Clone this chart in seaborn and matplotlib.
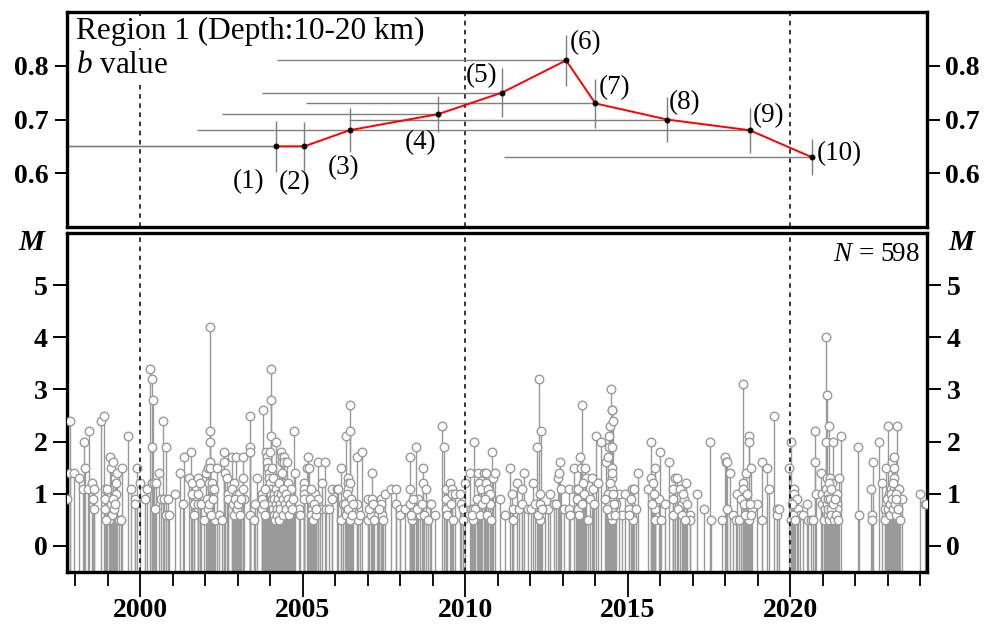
import numpy as np
import pandas as pd
import matplotlib
matplotlib.use("Agg")
import matplotlib.pyplot as plt
import seaborn as sns
from matplotlib.ticker import FixedLocator, MultipleLocator

# ---------------- b-value estimates (top panel) ----------------
b_labels = ["(1)", "(2)", "(3)", "(4)", "(5)", "(6)", "(7)", "(8)", "(9)", "(10)"]
b_time = [2004.18, 2005.05, 2006.44, 2009.17, 2011.13, 2013.10, 2014.00, 2016.20, 2018.75, 2020.65]
b_value = [0.65, 0.65, 0.68, 0.71, 0.75, 0.81, 0.73, 0.70, 0.68, 0.63]
b_err = [0.048, 0.046, 0.041, 0.034, 0.045, 0.047, 0.045, 0.042, 0.042, 0.034]
b_start = [1996.0, 1997.0, 2001.74, 2002.51, 2003.74, 2004.20, 2005.10, 2006.43, 2006.43, 2011.18]

# ---------------- earthquake magnitudes (bottom panel) ----------------
events_1997_2001 = [
    (1997.74, 0.9), (1997.83, 2.4), (1997.83, 1.4), (1997.97, 1.4), (1998.13, 1.3), (1998.27, 2.0),
    (1998.30, 1.5), (1998.24, 1.1), (1998.42, 2.2), (1998.40, 1.1), (1998.52, 1.2), (1998.57, 1.1),
    (1998.54, 0.9), (1998.59, 0.7), (1998.79, 2.4), (1998.88, 2.5), (1998.91, 1.1), (1998.91, 0.9),
    (1998.91, 0.7), (1998.98, 1.1), (1999.04, 0.5), (1999.07, 1.7), (1999.09, 1.5), (1999.17, 1.6),
    (1999.22, 1.3), (1999.26, 1.2), (1999.26, 1.0), (1999.29, 1.4), (1999.34, 0.5), (1999.42, 0.5),
    (1999.45, 1.5), (1999.63, 2.1), (1999.73, 1.1), (1999.84, 0.9), (1999.84, 0.8), (1999.91, 1.5),
    (1999.99, 1.2), (2000.14, 0.9), (2000.22, 1.1), (2000.29, 3.4), (2000.37, 3.2), (2000.38, 2.8),
    (2000.37, 1.9), (2000.35, 1.2), (2000.42, 1.2), (2000.50, 1.2), (2000.47, 0.7), (2000.59, 1.4),
    (2000.64, 0.9), (2000.70, 2.4), (2000.73, 0.9), (2000.81, 1.9), (2000.78, 0.6), (2000.86, 0.9),
    (2000.88, 0.6), (2001.06, 1.0), (2001.24, 1.4), (2001.31, 0.8), (2001.35, 1.7),
    (1999.10, 0.8), (1999.12, 0.6), (1999.18, 0.9), (1999.20, 0.7), (1999.24, 0.8), (1998.95, 0.5),
]
events_2001_2005 = [
    (2001.57, 1.8), (2001.49, 1.3), (2001.59, 1.2), (2001.59, 1.0), (2001.67, 0.8), (2001.67, 0.6),
    (2001.79, 1.3), (2001.84, 1.2), (2001.79, 1.0), (2001.79, 0.8), (2001.88, 0.8), (2001.95, 0.5),
    (2002.02, 1.4), (2002.10, 1.5), (2002.15, 4.2), (2002.16, 2.2), (2002.16, 2.0), (2002.16, 1.6),
    (2002.16, 1.5), (2002.12, 1.2), (2002.21, 1.2), (2002.21, 1.1), (2002.27, 1.1), (2002.29, 0.5),
    (2002.35, 1.5), (2002.43, 0.6), (2002.51, 0.5), (2002.58, 1.8), (2002.59, 1.6), (2002.62, 1.4),
    (2002.67, 1.3), (2002.70, 1.0), (2002.70, 0.9), (2002.82, 1.7), (2002.94, 1.7), (2002.90, 1.2),
    (2002.82, 1.1), (2002.97, 1.0), (2003.05, 1.0), (2003.15, 1.7), (2003.15, 1.3), (2003.15, 1.1),
    (2003.18, 0.9), (2003.37, 2.5), (2003.38, 1.9), (2003.38, 1.8), (2003.39, 0.6), (2003.49, 0.5),
    (2003.52, 0.8), (2003.60, 1.3), (2003.78, 2.6), (2003.74, 1.0), (2003.74, 0.9), (2003.74, 0.7),
    (2003.87, 1.8), (2003.90, 1.7), (2003.90, 1.6), (2004.03, 3.4), (2004.03, 2.8), (2004.03, 2.1),
    (2004.00, 1.8), (2004.18, 2.0), (2004.15, 1.3), (2004.15, 1.2), (2004.34, 1.8), (2004.36, 1.7),
    (2004.36, 1.6), (2004.36, 1.4), (2004.42, 1.7), (2004.42, 1.6), (2004.46, 1.2), (2004.51, 1.6),
    (2004.54, 1.2), (2004.63, 1.1), (2004.73, 2.2), (2004.77, 1.4), (2004.87, 0.7), (2004.92, 0.6),
    (2005.03, 1.2), (2005.03, 1.1), (2005.03, 1.0), (2005.03, 0.9), (2005.15, 1.7), (2005.14, 1.5),
    (2003.92, 1.5), (2003.95, 1.4), (2003.97, 1.3), (2003.98, 1.2), (2004.01, 1.1), (2004.02, 1.0),
    (2004.05, 0.9), (2004.06, 0.8), (2004.07, 1.5), (2004.08, 0.7), (2004.09, 1.3), (2004.11, 0.6),
    (2004.12, 1.0), (2004.13, 0.9), (2004.14, 0.5), (2004.17, 0.8), (2004.19, 1.1), (2004.20, 0.7),
    (2004.22, 0.6), (2004.23, 1.0), (2004.25, 0.9), (2004.26, 0.5), (2004.28, 1.2), (2004.29, 0.8),
    (2004.31, 0.7), (2004.32, 1.0), (2004.38, 0.9), (2004.39, 0.6), (2004.40, 1.1), (2004.44, 0.8),
    (2004.48, 1.0), (2004.50, 0.7), (2004.56, 0.9), (2004.58, 0.6), (2004.60, 0.8), (2004.66, 0.7),
    (2004.69, 0.9), (2003.80, 0.8), (2003.83, 1.1), (2003.85, 0.6),
    (2002.85, 0.8), (2002.88, 0.6), (2002.92, 0.9), (2002.99, 0.7), (2003.02, 0.8), (2003.08, 0.6),
    (2003.10, 0.9), (2002.05, 0.9), (2002.08, 0.7), (2002.13, 0.8), (2002.18, 0.6), (2002.24, 0.9),
]
events_2005_2009 = [
    (2005.19, 1.5), (2005.29, 1.0), (2005.29, 0.8), (2005.29, 0.7), (2005.37, 1.0), (2005.48, 1.6),
    (2005.46, 0.9), (2005.53, 0.7), (2005.60, 1.2), (2005.70, 1.6), (2005.73, 0.7), (2005.81, 0.7),
    (2005.89, 1.1), (2005.89, 0.9), (2006.04, 1.1), (2006.09, 1.1), (2006.17, 1.5), (2006.17, 0.5),
    (2006.25, 0.8), (2006.32, 2.1), (2006.38, 1.3), (2006.38, 1.2), (2006.38, 1.1), (2006.42, 0.9),
    (2006.46, 2.7), (2006.46, 2.2), (2006.46, 1.2), (2006.50, 0.7), (2006.66, 1.7), (2006.66, 0.8),
    (2006.71, 0.5), (2006.81, 1.8), (2006.76, 0.6), (2007.02, 0.5), (2007.02, 0.9), (2007.12, 1.4),
    (2007.12, 0.9), (2007.10, 0.6), (2007.27, 0.7), (2007.32, 0.6), (2007.41, 0.9), (2007.41, 0.8),
    (2007.45, 0.6), (2007.53, 1.0), (2007.73, 1.1), (2007.86, 1.1), (2007.86, 0.8), (2007.99, 0.7),
    (2007.99, 0.6), (2008.14, 0.7), (2008.30, 1.7), (2008.30, 1.1), (2008.30, 0.8), (2008.37, 0.5),
    (2008.43, 0.6), (2008.48, 1.9), (2008.55, 0.9), (2008.61, 0.6), (2008.71, 1.5), (2008.71, 1.2),
    (2008.78, 1.1), (2008.91, 0.8),
    (2005.22, 0.9), (2005.24, 0.6), (2005.26, 1.1), (2005.33, 0.5), (2005.35, 0.8), (2005.40, 0.6),
    (2005.42, 0.7), (2006.30, 0.8), (2006.34, 0.6), (2006.36, 1.0), (2006.40, 0.7), (2006.44, 0.5),
    (2006.48, 0.9), (2006.52, 0.6), (2006.55, 0.8), (2007.05, 0.7), (2007.15, 0.8), (2007.20, 0.5),
    (2007.35, 0.7), (2007.48, 0.5), (2008.33, 0.6), (2008.40, 0.9), (2008.52, 0.7), (2008.66, 0.8),
    (2008.74, 0.6), (2008.85, 0.5),
]
events_2009_2012 = [
    (2008.95, 0.8), (2009.08, 0.6), (2009.29, 2.3), (2009.34, 1.9), (2009.42, 1.1), (2009.42, 0.9),
    (2009.42, 0.7), (2009.52, 1.2), (2009.59, 1.1), (2009.59, 1.0), (2009.67, 1.0), (2009.83, 1.0),
    (2009.88, 0.8), (2009.93, 0.7), (2009.93, 0.5), (2009.98, 1.2), (2010.13, 1.4), (2010.16, 0.7),
    (2010.24, 0.7), (2010.24, 0.5), (2010.27, 2.0), (2010.31, 0.7), (2010.39, 1.4), (2010.41, 1.2),
    (2010.49, 1.1), (2010.57, 1.4), (2010.65, 1.4), (2010.65, 1.2), (2010.70, 1.1), (2010.75, 1.0),
    (2010.75, 0.8), (2010.82, 1.8), (2010.85, 1.3), (2010.90, 1.4), (2011.08, 0.9), (2011.21, 0.6),
    (2011.37, 1.5), (2011.44, 1.0), (2011.47, 0.7), (2011.47, 0.5), (2011.60, 1.2), (2011.64, 0.7),
    (2011.74, 1.1), (2011.81, 1.4), (2011.74, 0.8), (2011.93, 0.7), (2012.03, 0.7), (2012.08, 1.2),
    (2012.13, 0.8), (2012.22, 1.9), (2012.27, 3.2), (2012.34, 2.2), (2012.29, 0.8), (2012.29, 0.5),
    (2012.44, 0.7), (2012.54, 0.7), (2012.60, 1.0), (2012.73, 0.8),
    (2009.45, 0.6), (2009.55, 0.8), (2009.62, 0.5), (2010.20, 0.6), (2010.35, 0.9), (2010.45, 0.6),
    (2010.52, 0.8), (2010.60, 0.9), (2010.68, 0.6), (2010.78, 0.5), (2012.25, 0.6), (2012.31, 1.0),
    (2012.36, 0.7),
]
events_2012_2016 = [
    (2012.79, 0.8), (2012.86, 1.3), (2012.89, 1.4), (2012.92, 1.6), (2012.94, 1.1), (2013.03, 0.7),
    (2013.20, 1.1), (2013.20, 0.7), (2013.23, 0.6), (2013.33, 1.5), (2013.41, 1.1), (2013.48, 1.1),
    (2013.48, 0.7), (2013.54, 1.7), (2013.58, 2.7), (2013.56, 1.5), (2013.64, 1.0), (2013.68, 1.5),
    (2013.71, 1.3), (2013.76, 0.5), (2013.82, 0.9), (2013.89, 1.3), (2013.92, 1.1), (2013.95, 0.8),
    (2014.02, 2.1), (2014.07, 1.2), (2014.17, 2.0), (2014.33, 1.6), (2014.38, 1.7), (2014.43, 1.9),
    (2014.43, 2.1), (2014.45, 2.3), (2014.48, 3.0), (2014.50, 2.6), (2014.51, 2.6), (2014.53, 2.4),
    (2014.50, 1.9), (2014.50, 1.5), (2014.50, 1.3), (2014.50, 1.1), (2014.50, 0.9), (2014.50, 0.7),
    (2014.50, 0.5), (2014.64, 0.8), (2014.74, 1.0), (2014.81, 0.6), (2014.92, 1.0), (2015.02, 0.7),
    (2015.10, 0.9), (2015.12, 1.1), (2015.20, 1.1), (2015.15, 0.5), (2015.25, 0.7), (2015.32, 1.4),
    (2015.61, 1.1), (2015.71, 2.0), (2015.71, 1.3), (2015.76, 1.2), (2015.82, 1.5), (2015.82, 0.7),
    (2015.82, 0.5), (2015.97, 0.9), (2016.00, 1.8), (2016.01, 0.5), (2016.14, 0.8), (2016.25, 1.6),
    (2016.38, 1.1), (2016.38, 0.9), (2016.45, 1.3),
    (2013.45, 0.9), (2013.50, 0.6), (2013.60, 0.8), (2013.62, 1.2), (2014.40, 1.0), (2014.42, 0.8),
    (2014.46, 1.2), (2014.47, 0.6), (2014.52, 1.4), (2014.55, 1.0), (2014.57, 0.8), (2014.59, 0.6),
    (2014.35, 0.7), (2014.30, 0.9), (2015.05, 0.6), (2015.75, 0.8), (2015.79, 1.0), (2016.40, 0.6),
]
events_2016_2020 = [
    (2016.52, 1.3), (2016.61, 1.1), (2016.68, 0.8), (2016.73, 0.9), (2016.78, 1.2), (2016.81, 0.8),
    (2016.91, 0.6), (2016.91, 0.5), (2017.14, 1.0), (2017.34, 0.7), (2017.53, 2.0), (2017.57, 0.5),
    (2017.91, 0.5), (2017.99, 1.7), (2018.01, 1.6), (2018.06, 1.6), (2018.04, 0.7), (2018.14, 1.4),
    (2018.22, 0.6), (2018.32, 0.5), (2018.37, 1.0), (2018.42, 0.5), (2018.49, 0.9), (2018.55, 3.1),
    (2018.53, 1.2), (2018.53, 1.1), (2018.63, 1.4), (2018.68, 0.6), (2018.72, 2.1), (2018.72, 2.0),
    (2018.73, 0.5), (2018.80, 1.5), (2018.83, 0.7), (2018.98, 0.8), (2019.11, 1.6), (2019.11, 0.5),
    (2019.27, 1.5), (2019.34, 1.1), (2019.48, 2.5), (2019.60, 0.7), (2019.60, 0.6), (2019.65, 0.7),
    (2019.96, 1.5), (2020.03, 2.0), (2020.02, 0.5), (2020.11, 1.1), (2020.11, 1.0), (2020.19, 0.9),
    (2020.22, 0.7), (2020.30, 0.6),
    (2016.55, 0.7), (2016.65, 0.6), (2016.70, 1.0), (2016.75, 0.5), (2018.57, 0.8), (2018.60, 0.6),
    (2018.65, 1.0), (2018.75, 0.8), (2018.78, 0.6), (2020.05, 0.8), (2020.08, 0.6), (2020.14, 0.5),
]
events_2020_2024 = [
    (2020.39, 0.6), (2020.51, 0.8), (2020.53, 0.5), (2020.62, 0.5), (2020.70, 0.5), (2020.76, 2.2),
    (2020.77, 1.6), (2020.80, 1.0), (2020.94, 1.4), (2020.97, 1.0), (2020.97, 0.8), (2021.03, 0.5),
    (2021.08, 4.0), (2021.11, 2.9), (2021.10, 2.0), (2021.19, 2.3), (2021.13, 1.3), (2021.21, 1.3),
    (2021.28, 1.2), (2021.31, 2.0), (2021.35, 1.0), (2021.42, 1.0), (2021.42, 0.8), (2021.42, 0.7),
    (2021.49, 1.3), (2021.57, 2.1), (2022.07, 1.9), (2022.10, 0.6), (2022.49, 1.1), (2022.51, 0.6),
    (2022.51, 0.5), (2022.54, 1.6), (2022.73, 2.0), (2022.83, 1.2), (2022.92, 0.7), (2022.92, 0.5),
    (2022.95, 1.5), (2022.99, 2.3), (2023.03, 1.0), (2023.10, 1.1), (2023.13, 1.6), (2023.18, 1.7),
    (2023.20, 1.5), (2023.20, 1.3), (2023.20, 1.1), (2023.28, 2.3), (2023.30, 1.1), (2023.34, 1.1),
    (2023.44, 0.9), (2023.98, 1.0), (2024.15, 0.8), (2024.18, 0.8),
    (2021.05, 0.9), (2021.06, 0.7), (2021.09, 1.1), (2021.12, 0.8), (2021.14, 0.6), (2021.15, 1.0),
    (2021.16, 0.9), (2021.17, 0.7), (2021.18, 1.2), (2021.20, 0.5), (2021.22, 0.9), (2021.24, 0.7),
    (2021.25, 1.1), (2021.26, 0.6), (2021.30, 0.8), (2021.33, 0.5), (2021.37, 0.9), (2021.39, 0.6),
    (2021.45, 0.5), (2022.97, 0.9), (2023.00, 0.7), (2023.05, 0.8), (2023.07, 0.6), (2023.08, 1.0),
    (2023.12, 0.9), (2023.15, 0.7), (2023.16, 1.2), (2023.22, 0.8), (2023.24, 0.6), (2023.25, 1.0),
    (2023.26, 0.9), (2023.32, 0.7), (2023.36, 0.5),
]

dashed_years = [2000, 2010, 2020]
x_major = [2000, 2005, 2010, 2015, 2020]
n_total = 598

# ---------------- styling ----------------
sns.set_style("ticks")
plt.rcParams["font.family"] = ["Liberation Serif", "DejaVu Serif"]
plt.rcParams["font.weight"] = "bold"
plt.rcParams["text.color"] = "black"
plt.rcParams["axes.labelcolor"] = "black"
plt.rcParams["xtick.color"] = "black"
plt.rcParams["ytick.color"] = "black"
plt.rcParams["xtick.labelcolor"] = "black"
plt.rcParams["ytick.labelcolor"] = "black"
plt.rcParams["mathtext.fontset"] = "custom"
plt.rcParams["mathtext.rm"] = "Liberation Serif:weight=normal"
plt.rcParams["mathtext.it"] = "Liberation Serif:style=italic:weight=normal"
plt.rcParams["mathtext.bf"] = "Liberation Serif:weight=bold"

W, H = 984, 631
fig = plt.figure(figsize=(W / 100, H / 100), dpi=100)
L, R = 67, 927
ax1 = fig.add_axes([L / W, 1 - 227 / H, (R - L) / W, (227 - 12) / H])
ax2 = fig.add_axes([L / W, 1 - 572 / H, (R - L) / W, (572 - 233) / H])

xlim = (1997.75, 2024.2)
gray_line = "#7f7f7f"
stem_gray = "#9a9a9a"

# ---- top panel ----
ax1.hlines(b_value, b_start, b_time, color=gray_line, lw=1.0, zorder=2)
ax1.vlines(b_time, np.array(b_value) - np.array(b_err), np.array(b_value) + np.array(b_err),
           color=gray_line, lw=1.0, zorder=2)
bdf = pd.DataFrame({"t": b_time, "b": b_value})
sns.lineplot(data=bdf, x="t", y="b", color="red", lw=1.4, ax=ax1, zorder=4, sort=True,
             marker="o", markersize=3.5, markerfacecolor="black", markeredgecolor="black")
for yr in dashed_years:
    ax1.axvline(yr, color="black", lw=1.1, ls=(0, (3, 3)), zorder=1)

label_offsets = [(-28, 35), (-10, 36), (-6, 37), (-18, 28), (-20, -17),
                 (19, -18), (19, -16), (18, -17), (19, -15), (28, -4)]
for lab, t, b, (dx, dy) in zip(b_labels, b_time, b_value, label_offsets):
    ax1.annotate(lab, xy=(t, b), xytext=(dx, -dy), textcoords="offset pixels",
                 ha="center", va="center", fontsize=19.5, fontweight="normal", zorder=5)

ax1.annotate("Region 1 (Depth:10-20 km)", xy=(0, 1), xycoords="axes fraction",
             xytext=(9, -5), textcoords="offset pixels", ha="left", va="top",
             fontsize=22.5, fontweight="normal", zorder=6,
             bbox=dict(facecolor="white", edgecolor="none", pad=1))
ax1.annotate("$b$ value", xy=(0, 1), xycoords="axes fraction",
             xytext=(9, -39), textcoords="offset pixels", ha="left", va="top",
             fontsize=22.5, fontweight="normal", zorder=6,
             bbox=dict(facecolor="white", edgecolor="none", pad=1))

ax1.set_xlim(*xlim)
ax1.set_ylim(0.5, 0.9)
ax1.yaxis.set_major_locator(FixedLocator([0.6, 0.7, 0.8]))
ax1.set_yticklabels(["0.6", "0.7", "0.8"])
ax1.tick_params(axis="y", which="both", left=True, right=True, labelleft=True, labelright=True,
                direction="out", length=9, width=1.4, labelsize=20, pad=4)
ax1.tick_params(axis="x", which="both", bottom=False, labelbottom=False)
ax1.set_xlabel("")
ax1.set_ylabel("")

# ---- bottom panel ----
events = pd.DataFrame(
    events_1997_2001 + events_2001_2005 + events_2005_2009 + events_2009_2012
    + events_2012_2016 + events_2016_2020 + events_2020_2024,
    columns=["year", "mag"])
ax2.vlines(events["year"], -0.5, events["mag"], color=stem_gray, lw=1.0, zorder=2)
sns.scatterplot(data=events, x="year", y="mag", ax=ax2, marker="o", s=38,
                color="white", edgecolor=stem_gray, linewidth=1.0, zorder=3, legend=False)
for yr in dashed_years:
    ax2.axvline(yr, color="black", lw=1.1, ls=(0, (3, 3)), zorder=4)

ax2.annotate(f"$N$ = {n_total}", xy=(1, 1), xycoords="axes fraction", xytext=(-7, -9),
             textcoords="offset pixels", ha="right", va="top", fontsize=19.5, fontweight="normal")

ax2.set_xlim(*xlim)
ax2.set_ylim(-0.5, 6.0)
ax2.yaxis.set_major_locator(FixedLocator([0, 1, 2, 3, 4, 5]))
ax2.set_yticklabels(["0", "1", "2", "3", "4", "5"])
ax2.xaxis.set_major_locator(FixedLocator(x_major))
ax2.set_xticklabels([str(x) for x in x_major])
ax2.xaxis.set_minor_locator(MultipleLocator(1))
ax2.tick_params(axis="y", which="both", left=True, right=True, labelleft=True, labelright=True,
                direction="out", length=10, width=1.4, labelsize=20, pad=4)
ax2.tick_params(axis="x", which="major", direction="out", length=18, width=1.3, labelsize=20, pad=1)
ax2.tick_params(axis="x", which="minor", direction="out", length=10, width=1.3)
ax2.set_xlabel("")
ax2.set_ylabel("")

for ax in (ax1, ax2):
    for sp in ax.spines.values():
        sp.set_visible(True)
        sp.set_linewidth(2.4)
        sp.set_color("black")

fig.text(31 / W, 1 - 242 / H, "M", ha="center", va="center", fontsize=21,
         fontstyle="italic", fontweight="bold")
fig.text(961 / W, 1 - 242 / H, "M", ha="center", va="center", fontsize=21,
         fontstyle="italic", fontweight="bold")

fig.savefig("out.png", dpi=100)
